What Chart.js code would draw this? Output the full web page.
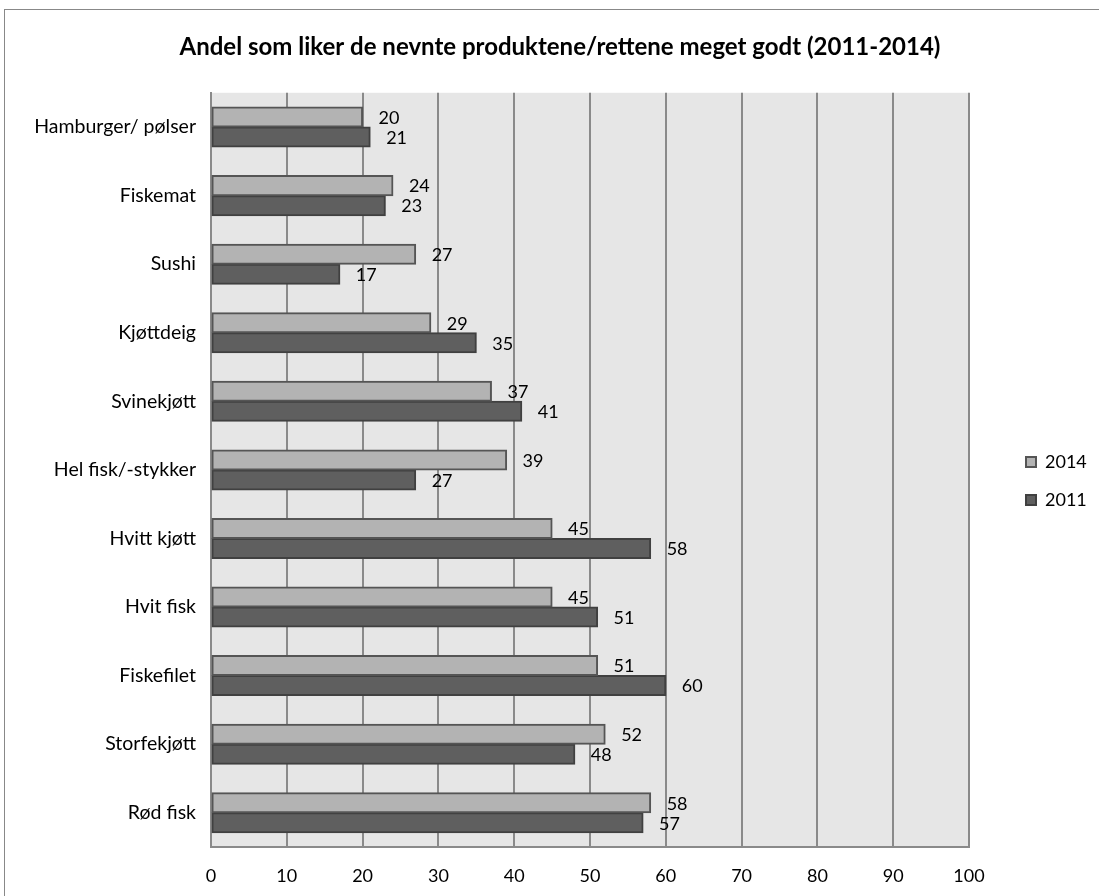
<!DOCTYPE html>
<html>
<head>
<meta charset="utf-8">
<title>Andel som liker de nevnte produktene/rettene meget godt</title>
<script src="https://cdn.jsdelivr.net/npm/chart.js@4.4.1/dist/chart.umd.min.js"></script>
<style>
  html, body { margin: 0; padding: 0; background: #fff; overflow: hidden; }
  #wrap { width: 1099px; height: 896px; }
</style>
</head>
<body>
<div id="wrap"><canvas id="chart" width="1099" height="896"></canvas></div>
<script>
const categories = [
  'Hamburger/ pølser', 'Fiskemat', 'Sushi', 'Kjøttdeig', 'Svinekjøtt',
  'Hel fisk/-stykker', 'Hvitt kjøtt', 'Hvit fisk', 'Fiskefilet', 'Storfekjøtt', 'Rød fisk'
];
const values2014 = [20, 24, 27, 29, 37, 39, 45, 45, 51, 52, 58];
const values2011 = [21, 23, 17, 35, 41, 27, 58, 51, 60, 48, 57];
const xTicks = [0, 10, 20, 30, 40, 50, 60, 70, 80, 90, 100];

const FONT = 'Lato, "Open Sans", sans-serif';
const GRID = '#8a8a8a';

// grey plot area plus the thin frame around the whole chart
const backdrop = {
  id: 'backdrop',
  beforeDraw(chart) {
    const { ctx, chartArea: a } = chart;
    ctx.save();
    ctx.fillStyle = '#e6e6e6';
    ctx.fillRect(a.left, a.top, a.right - a.left, a.bottom - a.top);
    ctx.strokeStyle = '#888888';
    ctx.lineWidth = 1;
    ctx.strokeRect(4.5, 9.5, chart.width + 40, chart.height + 40);
    ctx.restore();
  }
};

// value printed just past the end of each bar
const valueLabels = {
  id: 'valueLabels',
  afterDatasetsDraw(chart) {
    const ctx = chart.ctx;
    ctx.save();
    ctx.font = '18px ' + FONT;
    ctx.fillStyle = '#000';
    ctx.textAlign = 'left';
    ctx.textBaseline = 'middle';
    chart.data.datasets.forEach((ds, i) => {
      chart.getDatasetMeta(i).data.forEach((bar, j) => {
        ctx.fillText(String(ds.data[j]), bar.x + 16, bar.y + 1);
      });
    });
    ctx.restore();
  }
};

// legend gets a fixed column right of the plot, items set in from its edge
const legendColumn = {
  id: 'legendColumn',
  beforeInit(chart) {
    const legend = chart.legend;
    const fit = legend.fit;
    legend.fit = function () {
      fit.call(this);
      this.width = 130;
    };
  },
  afterLayout(chart) {
    const legend = chart.legend, area = chart.chartArea;
    legend.left = area.right + 37;
    legend.right = legend.left + 130;
    legend.top = area.top + 11;
    legend.bottom = area.bottom + 11;
  }
};

new Chart(document.getElementById('chart'), {
  type: 'bar',
  data: {
    labels: categories,
    datasets: [
      {
        label: '2014',
        data: values2014,
        backgroundColor: '#b3b3b3',
        borderColor: '#555555',
        borderWidth: 2,
        borderSkipped: false,
        inflateAmount: 0.5
      },
      {
        label: '2011',
        data: values2011,
        backgroundColor: '#5f5f5f',
        borderColor: '#404040',
        borderWidth: 2,
        borderSkipped: false,
        inflateAmount: 0.5
      }
    ]
  },
  options: {
    indexAxis: 'y',
    responsive: false,
    animation: false,
    categoryPercentage: 0.584,
    barPercentage: 1,
    layout: { padding: { left: 21, right: 0, top: 0, bottom: 0 } },
    scales: {
      x: {
        min: xTicks[0],
        max: xTicks[xTicks.length - 1],
        afterBuildTicks(scale) { scale.ticks = xTicks.map(v => ({ value: v })); },
        afterFit(scale) { scale.height = 49; },
        grid: { color: GRID, lineWidth: 2, drawTicks: false },
        border: { display: true, color: GRID, width: 2 },
        ticks: { color: '#000', padding: 18, font: { family: FONT, size: 18 } }
      },
      y: {
        afterFit(scale) { scale.width = 190; },
        grid: { display: false, drawTicks: false },
        border: { display: true, color: GRID, width: 2 },
        ticks: { color: '#000', padding: 15, font: { family: FONT, size: 19.5 } }
      }
    },
    plugins: {
      title: {
        display: true,
        text: 'Andel som liker de nevnte produktene/rettene meget godt (2011-2014)',
        color: '#000',
        font: { family: FONT, size: 24, weight: 'bold' },
        padding: { top: 33, bottom: 31 }
      },
      legend: {
        position: 'right',
        labels: {
          color: '#000',
          boxWidth: 10,
          boxHeight: 10,
          padding: 20,
          font: { family: FONT, size: 18 }
        }
      },
      tooltip: { enabled: false }
    }
  },
  plugins: [backdrop, valueLabels, legendColumn]
});
</script>
</body>
</html>
